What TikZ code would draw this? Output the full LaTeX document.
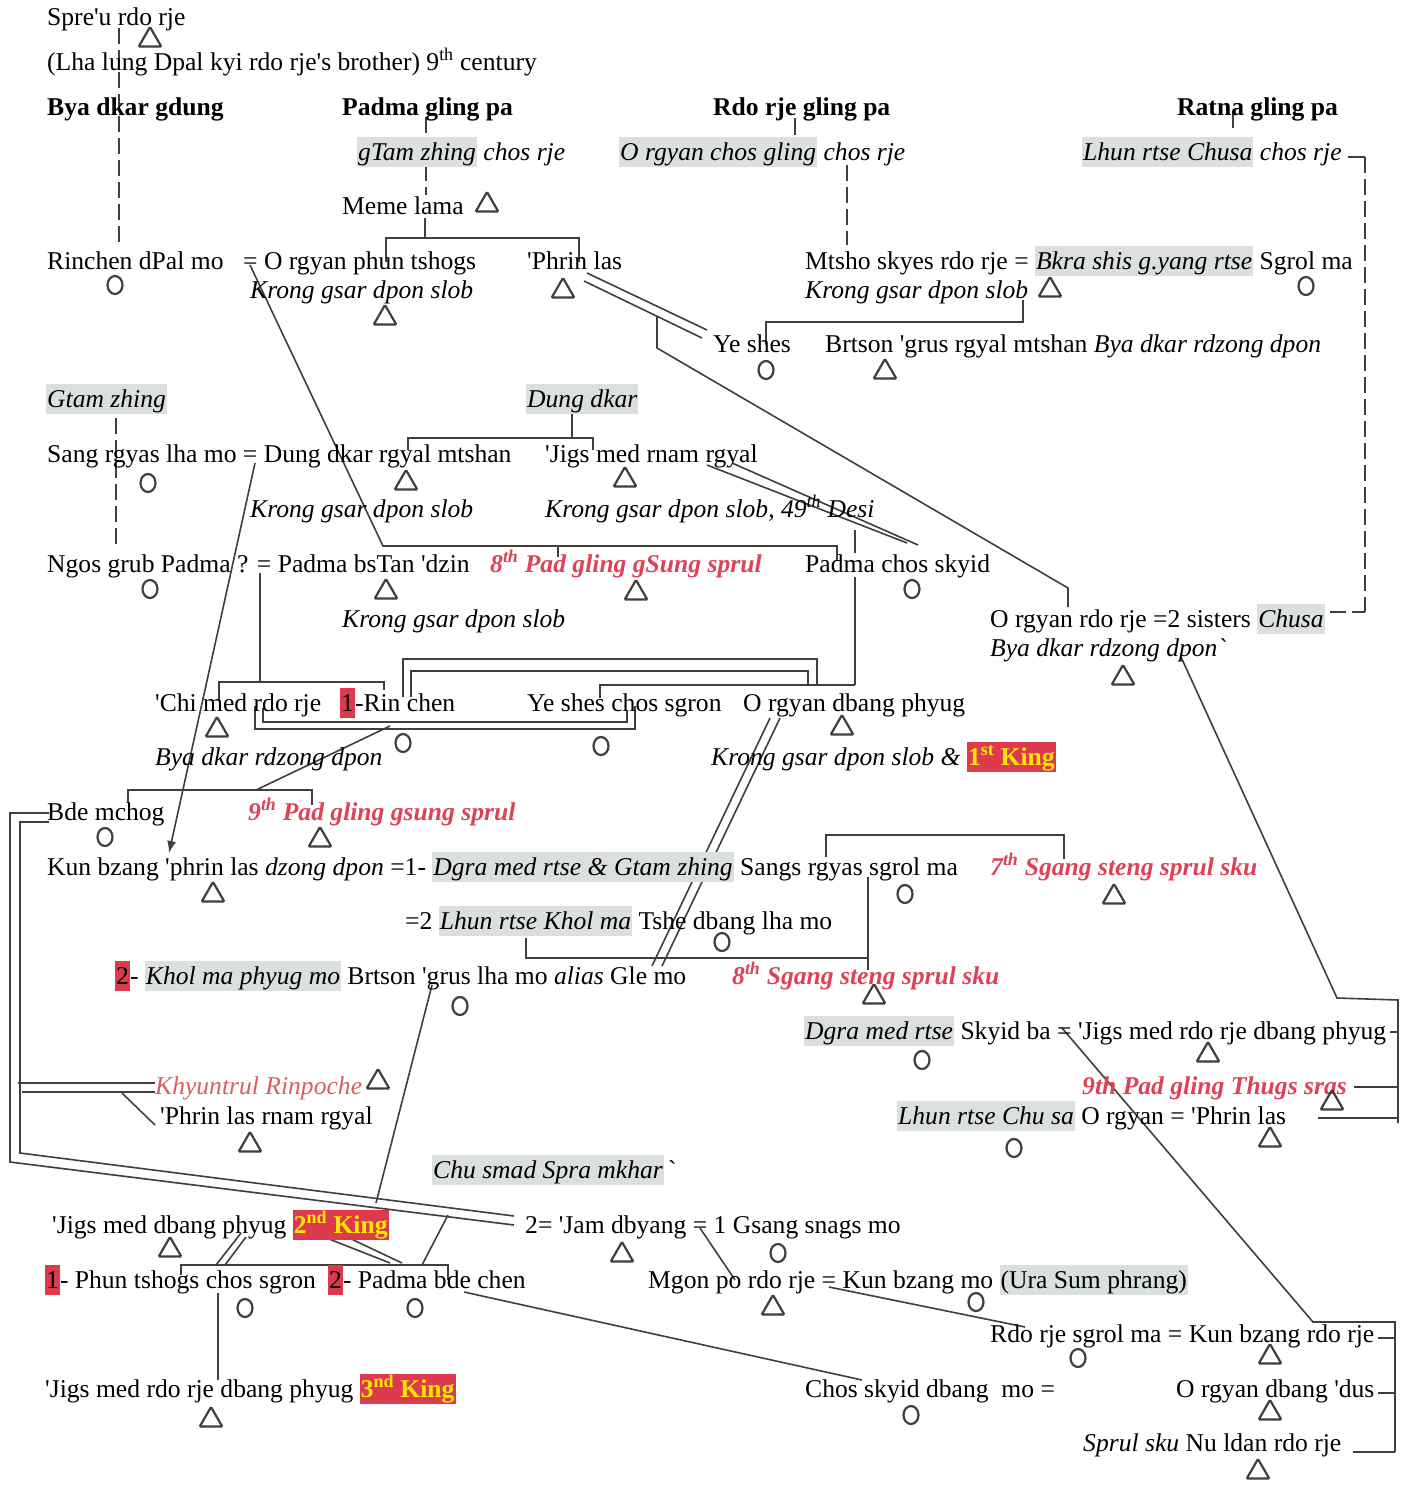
\documentclass[tikz,border=0pt]{standalone}
\usepackage{fontspec}
\setmainfont{Liberation Serif}
\usetikzlibrary{shapes.geometric,arrows.meta}
\definecolor{linegrey}{RGB}{66,62,58}
\definecolor{hlgrey}{RGB}{219,223,221}
\definecolor{redtext}{RGB}{222,66,86}
\definecolor{redbox}{RGB}{222,58,78}
\definecolor{kingyellow}{RGB}{255,232,0}
\definecolor{palered}{RGB}{214,96,96}
\newcommand{\hstrut}{\rule[-6pt]{0pt}{28pt}}
\newcommand{\hl}[1]{{\setlength{\fboxsep}{1pt}\colorbox{hlgrey}{\hstrut#1}}}
\newcommand{\rbox}[1]{{\setlength{\fboxsep}{1pt}\colorbox{redbox}{\hstrut#1}}}
\newcommand{\king}[1]{{\setlength{\fboxsep}{1pt}\colorbox{redbox}{\hstrut\color{kingyellow}\bfseries#1}}}
\newcommand{\ap}{\textquotesingle}
\newcommand{\bq}{\textasciigrave}

\begin{document}
\begin{tikzpicture}[x=1pt, y=-1pt,
  txt/.style={anchor=base west, inner sep=0pt, font=\fontsize{25.6}{28}\selectfont},
  redname/.style={txt, text=redtext, font=\fontsize{25.6}{28}\selectfont\bfseries\itshape},
  tri/.style={draw=linegrey, line width=2.2pt, regular polygon, regular polygon sides=3, minimum size=26pt, inner sep=0pt, rounded corners=1pt},
  circ/.style={draw=linegrey, line width=2.2pt, ellipse, minimum width=15pt, minimum height=18pt, inner sep=0pt},
  conn/.style={draw=linegrey, line width=1.6pt},
  dashconn/.style={conn, dash pattern=on 16pt off 6pt}]
\fill[white] (0,0) rectangle (1410,1486);
\useasboundingbox (0,0) rectangle (1410,1486);

% connector end points
\coordinate (spreu-d) at (119,28); \coordinate (rinchen-u) at (119,247);
\coordinate (padma-d) at (426,117); \coordinate (padma-e) at (426,133);
\coordinate (gtam-d) at (426,165); \coordinate (meme-u) at (426,195);
\coordinate (meme-d) at (425,218); \coordinate (meme-j) at (425,238);
\coordinate (phun-u) at (386,262); \coordinate (phrin-u) at (579,262);
\coordinate (rdorje-d) at (795,118); \coordinate (rdorje-e) at (795,135);
\coordinate (orgchos-d) at (847,165); \coordinate (mtsho-u) at (847,245);
\coordinate (ratna-d) at (1233,112); \coordinate (ratna-e) at (1233,128);
\coordinate (lhun-e) at (1348,157); \coordinate (lhun-r) at (1365,157);
\coordinate (chusa-r) at (1365,612); \coordinate (chusa-e) at (1330,612);
\coordinate (mtsho-d) at (1023,300); \coordinate (yeshes-u) at (766,345);
\coordinate (mtsho-j) at (1023,322);
\coordinate (phrin-m1) at (587,273); \coordinate (yeshes-m1) at (707,330);
\coordinate (phrin-m2) at (584,281); \coordinate (yeshes-m2) at (702,338);
\coordinate (m-stub) at (657,317); \coordinate (m-bend) at (657,348);
\coordinate (orgrdo-b) at (1068,588); \coordinate (orgrdo-u) at (1068,607);
\coordinate (rinchen-eq) at (250,265); \coordinate (gen4-l) at (383,546);
\coordinate (gen4-r) at (837,546); \coordinate (padmachos-u) at (837,560);
\coordinate (gen4-t) at (558,546); \coordinate (gsung8-u) at (558,557);
\coordinate (dung-d) at (572,413); \coordinate (dung-j) at (572,438);
\coordinate (dungrgyal-u) at (408,450); \coordinate (jigsrnam-u) at (593,450);
\coordinate (gtamzh-d) at (116,418); \coordinate (ngos-u) at (116,550);
\coordinate (sang-eq) at (255,463); \coordinate (kun-u) at (169,853);
\coordinate (jigs-m1) at (707,465); \coordinate (pchos-m1) at (907,543);
\coordinate (jigs-m2) at (732,463); \coordinate (pchos-m2) at (918,545);
\coordinate (pchos-d) at (855,530); \coordinate (pchos-e) at (855,553);
\coordinate (pchos-f) at (855,577); \coordinate (orgdbang-j) at (855,685);
\coordinate (ngos-eq) at (260,573); \coordinate (ngos-j) at (260,682);
\coordinate (chimed-u) at (219,700); \coordinate (rinchen2-u) at (384,690);
\coordinate (rin-a) at (403,697); \coordinate (top-a) at (817,659); \coordinate (og-a) at (817,685);
\coordinate (rin-b) at (411,697); \coordinate (top-b) at (808,671); \coordinate (og-b) at (808,685);
\coordinate (yeshes2-u) at (600,698);
\coordinate (chi-a) at (263,708); \coordinate (bot-a) at (627,722); \coordinate (ye-a) at (627,710);
\coordinate (chi-b) at (255,706); \coordinate (bot-b) at (635,729); \coordinate (ye-b) at (635,706);
\coordinate (bot-m) at (390,726); \coordinate (bde-j) at (256,790);
\coordinate (bde-u) at (128,803); \coordinate (gsung9-u) at (312,805);
\coordinate (ogd-m1) at (780,718); \coordinate (gle-m1) at (662,966);
\coordinate (ogd-m2) at (770,718); \coordinate (gle-m2) at (652,966);
\coordinate (gle-d) at (432,985); \coordinate (king2-u) at (376,1203);
\coordinate (tshe-u) at (526,938); \coordinate (sgang8-j) at (868,958);
\coordinate (sangsg-d) at (868,877); \coordinate (sgang8-u) at (868,970);
\coordinate (sangsg-u) at (826,857); \coordinate (sib7-r) at (1064,835); \coordinate (sgang7-u) at (1064,859);
\coordinate (byadkarb-d) at (1181,657); \coordinate (right-b) at (1337,998);
\coordinate (right-j) at (1398,1000); \coordinate (right-e) at (1398,1123);
\coordinate (skyid-r) at (1390,1032); \coordinate (thugs-r) at (1354,1087); \coordinate (phrin2-r) at (1318,1118);
\coordinate (skyid-eq) at (1062,1028); \coordinate (bot-r) at (1313,1322);
\coordinate (bot-j) at (1395,1322); \coordinate (bot-e) at (1395,1452);
\coordinate (kunrdo-r) at (1378,1338); \coordinate (dus-r) at (1378,1393); \coordinate (nuldan-r) at (1353,1452);
\coordinate (mgon-eq) at (829,1287); \coordinate (rdosgrol-u) at (1025,1327);
\coordinate (jam-eq) at (700,1228); \coordinate (mgon-u) at (735,1280);
\coordinate (bdechen-d) at (464,1292); \coordinate (choskyid-u) at (862,1380);
\coordinate (bde-l1) at (49,813); \coordinate (fr-a1) at (10,813); \coordinate (fr-a2) at (10,1162); \coordinate (jam-l1) at (514,1225);
\coordinate (bde-l2) at (49,822); \coordinate (fr-b1) at (20,822); \coordinate (fr-b2) at (20,1153); \coordinate (jam-l2) at (514,1216);
\coordinate (khy-a) at (18,1083); \coordinate (khy-l) at (155,1083);
\coordinate (khy-b) at (22,1092); \coordinate (khy-m) at (155,1092);
\coordinate (khy-c) at (122,1093); \coordinate (phrinrnam-l) at (155,1125);
\coordinate (sib2-l) at (181,1275); \coordinate (sib2-j) at (448,1265); \coordinate (bdechen-u) at (448,1280);
\coordinate (jd-m1) at (241,1233); \coordinate (sib2-m1) at (216,1265);
\coordinate (jd-m2) at (246,1237); \coordinate (sib2-m2) at (225,1265);
\coordinate (king2-m1) at (324,1237); \coordinate (sib2-m3) at (390,1263);
\coordinate (king2-m2) at (347,1237); \coordinate (sib2-m4) at (402,1263);
\coordinate (jamline-t) at (448,1215); \coordinate (sib2-m5) at (422,1265);
\coordinate (phun2-d) at (218,1293); \coordinate (jigs3-u) at (218,1380);

% dashed lineages
\draw[dashconn] (spreu-d) -- (rinchen-u);
\draw[dashconn] (gtam-d) -- (meme-u);
\draw[dashconn] (orgchos-d) -- (mtsho-u);
\draw[conn] (lhun-e) -- (lhun-r);
\draw[dashconn] (lhun-r) -- (chusa-r);
\draw[dashconn] (chusa-e) -- (chusa-r);
\draw[dashconn] (gtamzh-d) -- (ngos-u);

% upper generations
\draw[conn] (padma-d) -- (padma-e);
\draw[conn] (rdorje-d) -- (rdorje-e);
\draw[conn] (ratna-d) -- (ratna-e);
\draw[conn] (meme-d) -- (meme-j);
\draw[conn] (phun-u) |- (meme-j) -| (phrin-u);
\draw[conn] (mtsho-d) -- (mtsho-j) -| (yeshes-u);
\draw[conn] (phrin-m1) -- (yeshes-m1);
\draw[conn] (phrin-m2) -- (yeshes-m2);
\draw[conn] (m-stub) -- (m-bend) -- (orgrdo-b) -- (orgrdo-u);
\draw[conn] (rinchen-eq) -- (gen4-l) -- (gen4-r) -- (padmachos-u);
\draw[conn] (gen4-t) -- (gsung8-u);
\draw[conn] (dung-d) -- (dung-j);
\draw[conn] (dungrgyal-u) |- (dung-j) -| (jigsrnam-u);
\draw[conn, -{Latex[length=12pt,width=9pt]}] (sang-eq) -- (kun-u);
\draw[conn] (jigs-m1) -- (pchos-m1);
\draw[conn] (jigs-m2) -- (pchos-m2);
\draw[conn] (pchos-d) -- (pchos-e);
\draw[conn] (pchos-f) -- (orgdbang-j);

% middle generations
\draw[conn] (ngos-eq) -- (ngos-j);
\draw[conn] (chimed-u) |- (ngos-j) -| (rinchen2-u);
\draw[conn] (rin-a) |- (top-a) -- (og-a);
\draw[conn] (rin-b) |- (top-b) -- (og-b);
\draw[conn] (yeshes2-u) |- (orgdbang-j);
\draw[conn] (chi-a) |- (bot-a) -- (ye-a);
\draw[conn] (chi-b) |- (bot-b) -- (ye-b);
\draw[conn] (bot-m) -- (bde-j);
\draw[conn] (bde-u) |- (bde-j) -| (gsung9-u);
\draw[conn] (ogd-m1) -- (gle-m1);
\draw[conn] (ogd-m2) -- (gle-m2);
\draw[conn] (gle-d) -- (king2-u);
\draw[conn] (tshe-u) |- (sgang8-j) -- (sangsg-d);
\draw[conn] (sgang8-j) -- (sgang8-u);
\draw[conn] (sangsg-u) |- (sib7-r) -- (sgang7-u);

% right side
\draw[conn] (byadkarb-d) -- (right-b) -- (right-j) -- (right-e);
\draw[conn] (skyid-r) -- (skyid-r -| right-j);
\draw[conn] (thugs-r) -- (thugs-r -| right-j);
\draw[conn] (phrin2-r) -- (phrin2-r -| right-j);
\draw[conn] (skyid-eq) -- (bot-r) -- (bot-j) -- (bot-e);
\draw[conn] (kunrdo-r) -- (kunrdo-r -| bot-j);
\draw[conn] (dus-r) -- (dus-r -| bot-j);
\draw[conn] (nuldan-r) -- (bot-e);

% lower generations
\draw[conn] (mgon-eq) -- (rdosgrol-u);
\draw[conn] (jam-eq) -- (mgon-u);
\draw[conn] (bdechen-d) -- (choskyid-u);
\draw[conn] (bde-l1) -- (fr-a1) -- (fr-a2) -- (jam-l1);
\draw[conn] (bde-l2) -- (fr-b1) -- (fr-b2) -- (jam-l2);
\draw[conn] (khy-a) -- (khy-l);
\draw[conn] (khy-b) -- (khy-m);
\draw[conn] (khy-c) -- (phrinrnam-l);
\draw[conn] (sib2-l) |- (sib2-j) -- (bdechen-u);
\draw[conn] (jd-m1) -- (sib2-m1);
\draw[conn] (jd-m2) -- (sib2-m2);
\draw[conn] (king2-m1) -- (sib2-m3);
\draw[conn] (king2-m2) -- (sib2-m4);
\draw[conn] (jamline-t) -- (sib2-m5);
\draw[conn] (phun2-d) -- (jigs3-u);

% names
\node[txt] (spreu) at (47,25) {Spre\ap{}u rdo rje};
\node[txt] (lhalung) at (47,70) {(Lha lung Dpal kyi rdo rje\ap{}s brother) 9\textsuperscript{th} century};
\node[txt, font=\fontsize{25.6}{28}\selectfont\bfseries] (byadkar) at (47,115) {Bya dkar gdung};
\node[txt, font=\fontsize{25.6}{28}\selectfont\bfseries] (padma) at (342,115) {Padma gling pa};
\node[txt, font=\fontsize{25.6}{28}\selectfont\bfseries] (rdorje) at (713,115) {Rdo rje gling pa};
\node[txt, font=\fontsize{25.6}{28}\selectfont\bfseries] (ratna) at (1177,115) {Ratna gling pa};
\node[txt] (gtam) at (357,160) {\hl{\itshape gTam zhing} \textit{chos rje}};
\node[txt] (orgchos) at (619,160) {\hl{\itshape O rgyan chos gling} \textit{chos rje}};
\node[txt] (lhun) at (1082,160) {\hl{\itshape Lhun rtse Chusa} \textit{chos rje}};
\node[txt] (meme) at (342,214) {Meme lama};
\node[txt] (rinchen) at (47,269) {Rinchen dPal mo};
\node[txt] (phuntshogs) at (243,269) {= O rgyan phun tshogs};
\node[txt] (phrinlas) at (527,269) {\ap{}Phrin las};
\node[txt] (kronga) at (250,298) {\itshape Krong gsar dpon slob};
\node[txt] (mtsho) at (805,269) {Mtsho skyes rdo rje = \hl{\itshape Bkra shis g.yang rtse} Sgrol ma};
\node[txt] (krongb) at (805,298) {\itshape Krong gsar dpon slob};
\node[txt] (yeshes) at (713,352) {Ye shes};
\node[txt] (brtson) at (825,352) {Brtson \ap{}grus rgyal mtshan \textit{Bya dkar rdzong dpon}};
\node[txt] (gtamzhing) at (46,407) {\hl{\itshape Gtam zhing}};
\node[txt] (dungdkar) at (526,407) {\hl{\itshape Dung dkar}};
\node[txt] (sangrgyas) at (47,462) {Sang rgyas lha mo = Dung dkar rgyal mtshan};
\node[txt] (jigsrnam) at (545,462) {\ap{}Jigs med rnam rgyal};
\node[txt] (krongc) at (250,517) {\itshape Krong gsar dpon slob};
\node[txt] (krongd) at (545,517) {\itshape Krong gsar dpon slob, 49\textsuperscript{th} Desi};
\node[txt] (ngosgrub) at (47,572) {Ngos grub Padma ? = Padma bsTan \ap{}dzin};
\node[redname] (gsung8) at (490,572) {8\textsuperscript{th} Pad gling gSung sprul};
\node[txt] (padmachos) at (805,572) {Padma chos skyid};
\node[txt] (kronge) at (342,627) {\itshape Krong gsar dpon slob};
\node[txt] (orgrdo) at (990,627) {O rgyan rdo rje =2 sisters \hl{\itshape Chusa}};
\node[txt] (byadkarb) at (990,656) {\itshape Bya dkar rdzong dpon\bq};
\node[txt] (chimed) at (155,711) {\ap{}Chi med rdo rje};
\node[txt] (rinchen2) at (340,711) {\rbox{1}-Rin chen};
\node[txt] (yeshes2) at (527,711) {Ye shes chos sgron};
\node[txt] (orgdbang) at (743,711) {O rgyan dbang phyug};
\node[txt] (byadkarc) at (155,765) {\itshape Bya dkar rdzong dpon};
\node[txt] (krongf) at (711,765) {\textit{Krong gsar dpon slob \&} \king{1\textsuperscript{st} King}};
\node[txt] (bdemchog) at (47,820) {Bde mchog};
\node[redname] (gsung9) at (248,820) {9\textsuperscript{th} Pad gling gsung sprul};
\node[txt] (kunbzang) at (47,875) {Kun bzang \ap{}phrin las \textit{dzong dpon} =1- \hl{\itshape Dgra med rtse \& Gtam zhing} Sangs rgyas sgrol ma};
\node[redname] (sgang7) at (990,875) {7\textsuperscript{th} Sgang steng sprul sku};
\node[txt] (tshedbang) at (405,929) {=2 \hl{\itshape Lhun rtse Khol ma} Tshe dbang lha mo};
\node[txt] (glemo) at (115,984) {\rbox{2}- \hl{\itshape Khol ma phyug mo} Brtson \ap{}grus lha mo \textit{alias} Gle mo};
\node[redname] (sgang8) at (732,984) {8\textsuperscript{th} Sgang steng sprul sku};
\node[txt] (skyidba) at (804,1039) {\hl{\itshape Dgra med rtse} Skyid ba = \ap{}Jigs med rdo rje dbang phyug};
\node[txt, text=palered, font=\fontsize{25.6}{28}\selectfont\itshape] (khyuntrul) at (155,1094) {Khyuntrul Rinpoche};
\node[redname] (thugs9) at (1082,1094) {9th Pad gling Thugs sras};
\node[txt] (phrinrnam) at (160,1124) {\ap{}Phrin las rnam rgyal};
\node[txt] (chusa) at (897,1124) {\hl{\itshape Lhun rtse Chu sa} O rgyan = \ap{}Phrin las};
\node[txt] (spramkhar) at (432,1178) {\hl{\itshape Chu smad Spra mkhar}\,\bq};
\node[txt] (jigsdbang) at (52,1233) {\ap{}Jigs med dbang phyug \king{2\textsuperscript{nd} King}};
\node[txt] (jamdbyang) at (525,1233) {2= \ap{}Jam dbyang = 1 Gsang snags mo};
\node[txt] (phuntshogs2) at (45,1288) {\rbox{1}- Phun tshogs chos sgron};
\node[txt] (bdechen) at (328,1288) {\rbox{2}- Padma bde chen};
\node[txt] (mgonpo) at (648,1288) {Mgon po rdo rje = Kun bzang mo \hl{(Ura Sum phrang)}};
\node[txt] (rdorjesgrol) at (990,1342) {Rdo rje sgrol ma = Kun bzang rdo rje};
\node[txt] (jigs3) at (45,1397) {\ap{}Jigs med rdo rje dbang phyug \king{3\textsuperscript{nd} King}};
\node[txt] (choskyid) at (805,1397) {Chos skyid dbang\ \ mo =};
\node[txt] (orgdus) at (1176,1397) {O rgyan dbang \ap{}dus};
\node[txt] (nuldan) at (1083,1451) {\textit{Sprul sku} Nu ldan rdo rje};

% males
\foreach \n/\p in {t1/{150,40}, t2/{487,205}, t3/{563,291}, t4/{385,318}, t5/{1050,290},
  t6/{885,372}, t7/{406,483}, t8/{625,480}, t9/{386,592}, t10/{636,593}, t11/{1123,678},
  t12/{217,730}, t13/{842,728}, t14/{320,840}, t15/{213,895}, t16/{1114,897}, t17/{874,997},
  t18/{1208,1055}, t19/{378,1082}, t20/{1332,1103}, t21/{250,1145}, t22/{1270,1140},
  t23/{170,1250}, t24/{622,1255}, t25/{773,1308}, t26/{1270,1357}, t27/{211,1420},
  t28/{1270,1413}, t29/{1258,1472}}
  \node[tri] (\n) at (\p) {};
% females
\foreach \n/\p in {c1/{115,285}, c2/{1306,286}, c3/{766,370}, c4/{148,483}, c5/{150,589},
  c6/{912,589}, c7/{403,743}, c8/{601,746}, c9/{105,837}, c10/{905,894}, c11/{722,942},
  c12/{460,1006}, c13/{922,1060}, c14/{1014,1148}, c15/{778,1253}, c16/{245,1308},
  c17/{415,1308}, c18/{976,1302}, c19/{1078,1358}, c20/{911,1415}}
  \node[circ] (\n) at (\p) {};
\end{tikzpicture}
\end{document}
